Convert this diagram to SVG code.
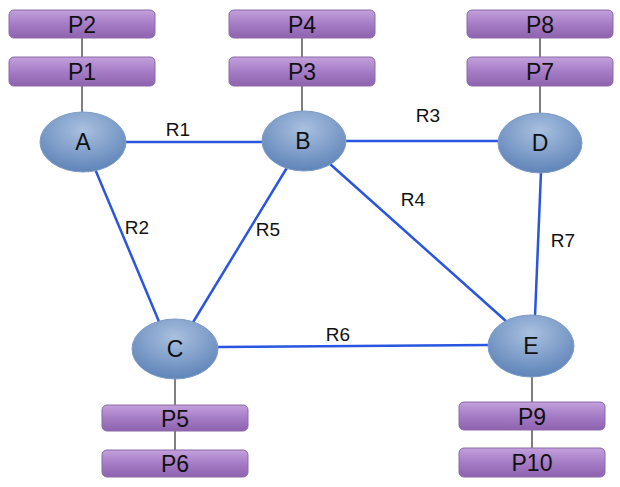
<svg xmlns="http://www.w3.org/2000/svg" width="620" height="487" viewBox="0 0 620 487">
<defs>
<radialGradient id="ng" cx="0.5" cy="0.3" r="0.7">
<stop offset="0" stop-color="#a9c0e0"/>
<stop offset="1" stop-color="#5f84b8"/>
</radialGradient>
<linearGradient id="pg" x1="0" y1="0" x2="0" y2="1">
<stop offset="0" stop-color="#c3a0dc"/>
<stop offset="0.5" stop-color="#a57cc6"/>
<stop offset="1" stop-color="#8e62ae"/>
</linearGradient>
<style>
.n{fill:url(#ng);stroke:#7f9cc6;stroke-width:1}
.p{fill:url(#pg);stroke:#8a6aa6;stroke-width:1}
.t{font-family:"Liberation Sans",Arial,sans-serif;font-size:23px;fill:#111;text-anchor:middle}
.e{stroke:#2a55e0;stroke-width:2.5;fill:none}
.s{stroke:#555;stroke-width:1.5}
.l{font-family:"Liberation Sans",Arial,sans-serif;font-size:19px;fill:#111;text-anchor:middle}
</style>
</defs>
<rect width="620" height="487" fill="#fff"/>
<g id="connectors">
<line class="e" x1="125" y1="142" x2="263" y2="142"/>
<line class="e" x1="346" y1="141" x2="498" y2="141"/>
<line class="e" x1="95" y1="169" x2="160" y2="324"/>
<line class="e" x1="288" y1="166" x2="192" y2="324"/>
<line class="e" x1="330" y1="164" x2="507" y2="322"/>
<line class="e" x1="541" y1="172" x2="535" y2="316"/>
<line class="e" x1="218" y1="347" x2="489" y2="345"/>
<line class="s" x1="82" y1="38" x2="82" y2="57"/>
<line class="s" x1="82" y1="86" x2="82" y2="112"/>
<line class="s" x1="302" y1="38" x2="302" y2="57"/>
<line class="s" x1="302" y1="86" x2="302" y2="112"/>
<line class="s" x1="540" y1="38" x2="540" y2="57"/>
<line class="s" x1="540" y1="86" x2="540" y2="113"/>
<line class="s" x1="175" y1="378" x2="175" y2="405"/>
<line class="s" x1="175" y1="430" x2="175" y2="450"/>
<line class="s" x1="532" y1="377" x2="532" y2="402"/>
<line class="s" x1="532" y1="430" x2="532" y2="448"/>
<text class="l" x="178" y="136">R1</text>
<text class="l" x="428" y="122">R3</text>
<text class="l" x="137" y="234">R2</text>
<text class="l" x="268" y="236">R5</text>
<text class="l" x="413" y="206">R4</text>
<text class="l" x="563" y="247">R7</text>
<text class="l" x="338" y="341">R6</text>
</g>
<g id="P2"><rect class="p" x="9" y="10" width="146" height="28" rx="5"/><text class="t" x="82" y="33">P2</text></g>
<g id="P1"><rect class="p" x="9" y="57" width="146" height="29" rx="5"/><text class="t" x="82" y="80">P1</text></g>
<g id="P4"><rect class="p" x="229" y="10" width="146" height="28" rx="5"/><text class="t" x="302" y="33">P4</text></g>
<g id="P3"><rect class="p" x="229" y="57" width="146" height="29" rx="5"/><text class="t" x="302" y="80">P3</text></g>
<g id="P8"><rect class="p" x="467" y="10" width="146" height="28" rx="5"/><text class="t" x="540" y="33">P8</text></g>
<g id="P7"><rect class="p" x="467" y="57" width="146" height="29" rx="5"/><text class="t" x="540" y="80">P7</text></g>
<g id="P5"><rect class="p" x="102" y="405" width="146" height="26" rx="5"/><text class="t" x="175" y="427">P5</text></g>
<g id="P6"><rect class="p" x="102" y="450" width="146" height="27" rx="5"/><text class="t" x="175" y="472">P6</text></g>
<g id="P9"><rect class="p" x="459" y="402" width="146" height="28" rx="5"/><text class="t" x="532" y="425">P9</text></g>
<g id="P10"><rect class="p" x="459" y="448" width="146" height="29" rx="5"/><text class="t" x="532" y="471">P10</text></g>
<g id="A"><ellipse class="n" cx="83" cy="142" rx="43" ry="30"/><text class="t" x="83" y="150">A</text></g>
<g id="B"><ellipse class="n" cx="304" cy="141" rx="42" ry="30"/><text class="t" x="303" y="149">B</text></g>
<g id="D"><ellipse class="n" cx="540" cy="143" rx="42" ry="30"/><text class="t" x="540" y="151">D</text></g>
<g id="C"><ellipse class="n" cx="175" cy="349" rx="43" ry="30"/><text class="t" x="175" y="357">C</text></g>
<g id="E"><ellipse class="n" cx="531" cy="346" rx="43" ry="31"/><text class="t" x="531" y="354">E</text></g>
</svg>
